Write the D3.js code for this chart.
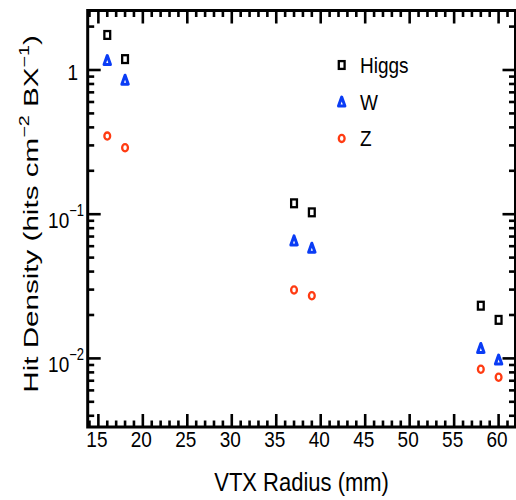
<!DOCTYPE html>
<html>
<head>
<meta charset="utf-8">
<script src="https://cdn.jsdelivr.net/npm/d3@7"></script>
<style>
  html, body { margin: 0; padding: 0; background: #fff; }
  svg { display: block; }
  text { font-family: "Liberation Sans", Arial, sans-serif; fill: #000; }
</style>
</head>
<body>
<svg id="chart" width="516" height="500"></svg>
<script>
// Vertex detector layer radii (mm)
const radius = [16, 18, 37, 39, 58, 60];
// Hit densities per layer (hits cm^-2 BX^-1)
const higgs  = [1.75, 1.19, 0.119, 0.103, 0.0232, 0.0185];
const wBoson = [1.17, 0.855, 0.0657, 0.0585, 0.0118, 0.0098];
const zBoson = [0.348, 0.289, 0.0298, 0.0272, 0.0084, 0.0074];

const xTickValues = [15, 20, 25, 30, 35, 40, 45, 50, 55, 60];
const yTickValues = [1, 0.1, 0.01];
const yTickLabels = [["1", ""], ["10", "\u22121"], ["10", "\u22122"]];

const seriesNames = ["Higgs", "W", "Z"];

const svg = d3.select("#chart");
const plotLeft = 87.7, plotRight = 515.5, plotTop = 10.5, plotBottom = 427;
const tall = 1.2; // glyphs are drawn a little taller than wide

const x = d3.scaleLinear().domain([13.8, 61.9]).range([plotLeft, plotRight]);
const y = d3.scaleLog().domain([0.003344, 2.586]).range([plotBottom, plotTop]);

// minor tick sets
const xMinor = d3.range(14, 62, 1).filter(v => v % 5 !== 0);
const yMinor = [];
[0.001, 0.01, 0.1, 1].forEach(d => {
  for (let k = 2; k <= 9; k++) {
    const v = k * d;
    if (v > y.domain()[0] && v < y.domain()[1]) yMinor.push(v);
  }
});

const frame = svg.append("g").attr("stroke", "#000").attr("stroke-width", 2.6).attr("fill", "none");

// inward ticks on all four sides
function ticksX(vals, len) {
  vals.forEach(v => {
    const px = x(v);
    frame.append("line").attr("x1", px).attr("x2", px).attr("y1", plotBottom).attr("y2", plotBottom - len);
    frame.append("line").attr("x1", px).attr("x2", px).attr("y1", plotTop).attr("y2", plotTop + len);
  });
}
function ticksY(vals, len) {
  vals.forEach(v => {
    const py = y(v);
    frame.append("line").attr("y1", py).attr("y2", py).attr("x1", plotLeft).attr("x2", plotLeft + len);
    frame.append("line").attr("y1", py).attr("y2", py).attr("x1", plotRight).attr("x2", plotRight - len);
  });
}
ticksX(xTickValues, 13);
ticksX(xMinor, 6.5);
ticksY(yTickValues, 13);
ticksY(yMinor, 6.5);

frame.append("rect")
  .attr("x", plotLeft).attr("y", plotTop)
  .attr("width", plotRight - plotLeft).attr("height", plotBottom - plotTop)
  .attr("stroke-width", 3);

// text placed at (tx, ty) and stretched vertically
function tallText(g, tx, ty, size) {
  return g.append("text")
    .attr("transform", `translate(${tx},${ty}) scale(1,${tall})`)
    .style("font-size", size + "px");
}

// x tick labels
const xl = svg.append("g");
xTickValues.forEach(v => {
  tallText(xl, x(v) - 1.5, plotBottom + 20, 19).attr("text-anchor", "middle").text(v);
});

// y tick labels with superscript exponents
const yl = svg.append("g");
yTickValues.forEach((v, i) => {
  const [base, exp] = yTickLabels[i];
  if (exp) {
    const t = tallText(yl, 84, y(v) + 14, 19).attr("text-anchor", "end");
    t.append("tspan").text(base);
    t.append("tspan").attr("dy", -10).style("font-size", "13px").text(exp);
  } else {
    tallText(yl, 78, y(v) + 10, 19).attr("text-anchor", "end").text(base);
  }
});

// axis titles
tallText(svg, (plotLeft + plotRight) / 2, 491, 22)
  .attr("text-anchor", "middle")
  .text("VTX Radius (mm)");

const yt = svg.append("text")
  .attr("transform", "translate(38,214) rotate(-90) scale(1.41,1)")
  .attr("text-anchor", "middle")
  .style("font-size", "21px");
yt.append("tspan").text("Hit Density (hits cm");
yt.append("tspan").attr("dy", -9).style("font-size", "14px").text("\u22122");
yt.append("tspan").attr("dy", 9).text(" BX");
yt.append("tspan").attr("dy", -9).style("font-size", "14px").text("\u22121");
yt.append("tspan").attr("dy", 9).text(")");

// marker drawers
const colors = { Higgs: "#000000", W: "#0a3cf5", Z: "#ff3b12" };
function marker(g, name, cx, cy) {
  if (name === "Higgs") {
    g.append("rect").attr("x", cx - 2.9).attr("y", cy - 3.9).attr("width", 5.8).attr("height", 7.8)
      .attr("fill", "#fff").attr("stroke", colors.Higgs).attr("stroke-width", 2.3);
  } else if (name === "W") {
    g.append("path").attr("d", `M${cx},${cy - 4.6}L${cx + 3.2},${cy + 4.4}L${cx - 3.2},${cy + 4.4}Z`)
      .attr("fill", "#fff").attr("stroke", colors.W).attr("stroke-width", 3).attr("stroke-linejoin", "round");
  } else {
    g.append("ellipse").attr("cx", cx).attr("cy", cy).attr("rx", 2.9).attr("ry", 3.6)
      .attr("fill", "#fff").attr("stroke", colors.Z).attr("stroke-width", 2.3);
  }
}

const data = { Higgs: higgs, W: wBoson, Z: zBoson };
const pts = svg.append("g");
seriesNames.forEach(name => {
  data[name].forEach((v, i) => marker(pts, name, x(radius[i]), y(v)));
});

// legend
const lg = svg.append("g");
seriesNames.forEach((name, i) => {
  const ly = 65 + i * 36.7;
  marker(lg, name, 341.7, ly);
  tallText(lg, 360, ly + 8, 19).text(name);
});
</script>
</body>
</html>
